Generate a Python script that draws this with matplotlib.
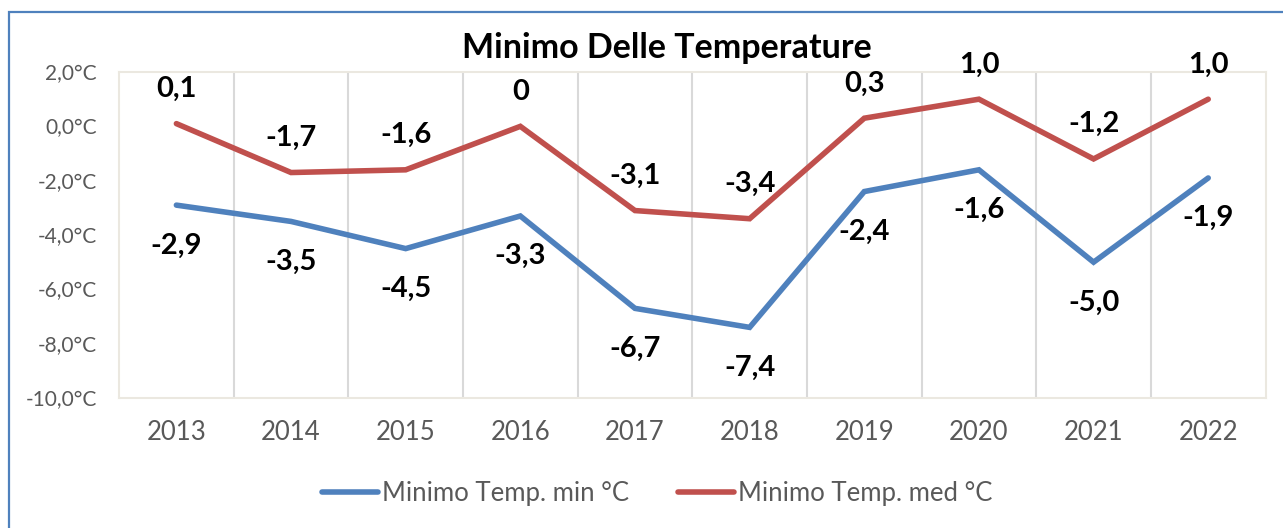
import matplotlib
matplotlib.use("Agg")
import matplotlib.pyplot as plt
from matplotlib.patches import Rectangle
from matplotlib.ticker import FuncFormatter, MultipleLocator

years = ["2013", "2014", "2015", "2016", "2017", "2018", "2019", "2020", "2021", "2022"]
temp_min = [-2.9, -3.5, -4.5, -3.3, -6.7, -7.4, -2.4, -1.6, -5.0, -1.9]
temp_med = [0.1, -1.7, -1.6, 0.0, -3.1, -3.4, 0.3, 1.0, -1.2, 1.0]
labels_min = ["-2,9", "-3,5", "-4,5", "-3,3", "-6,7", "-7,4", "-2,4", "-1,6", "-5,0", "-1,9"]
labels_med = ["0,1", "-1,7", "-1,6", "0", "-3,1", "-3,4", "0,3", "1,0", "-1,2", "1,0"]

plt.rcParams['font.family'] = ['Lato', 'DejaVu Sans']

blue = '#4f81bd'
red = '#c0504d'

fig = plt.figure(figsize=(12.83, 5.28), dpi=100)
ax = fig.add_axes([0.0928, 0.2462, 0.8936, 0.6174])

x = range(len(years))
ax.plot(x, temp_min, color=blue, lw=4.0, solid_capstyle='round',
        solid_joinstyle='miter', label='Minimo Temp. min °C')
ax.plot(x, temp_med, color=red, lw=4.0, solid_capstyle='round',
        solid_joinstyle='miter', label='Minimo Temp. med °C')

for i, (v, s) in enumerate(zip(temp_min, labels_min)):
    ax.annotate(s, (i, v), xytext=(0, -29), textcoords='offset points',
                ha='center', va='center', fontsize=21, fontweight='bold')
for i, (v, s) in enumerate(zip(temp_med, labels_med)):
    ax.annotate(s, (i, v), xytext=(0, 25), textcoords='offset points',
                ha='center', va='center', fontsize=21, fontweight='bold')

ax.set_xlim(-0.5, len(years) - 0.5)
ax.set_ylim(-10, 2)
ax.yaxis.set_major_locator(MultipleLocator(2))
ax.yaxis.set_major_formatter(FuncFormatter(lambda v, p: f"{v:.1f}°C".replace('.', ',')))
ax.set_xticks(list(x))
ax.set_xticklabels(years)
ax.set_xticks([i + 0.5 for i in range(len(years) - 1)], minor=True)
ax.grid(True, which='minor', axis='x', color='#d9d9d9', lw=1.5)
ax.tick_params(axis='x', which='both', length=0, pad=16, labelsize=18.5, labelcolor='#595959')
ax.tick_params(axis='y', length=0, pad=16, labelsize=15, labelcolor='#595959')
for sp in ax.spines.values():
    sp.set_color('#ebe8e0')
    sp.set_linewidth(1.5)

fig.text(667 / 1283, 1 - 48 / 528, 'Minimo Delle Temperature', ha='center', va='center',
         fontsize=24.5, fontweight='bold')

ax.legend(loc='center', bbox_to_anchor=(657 / 1283, 1 - 493 / 528),
          bbox_transform=fig.transFigure, ncol=2, frameon=False, fontsize=18.5,
          handlelength=2.2, handletextpad=0.15, columnspacing=1.9,
          labelcolor='#595959')

fig.patches.append(Rectangle((9 / 1283, -0.5), 2, 0.5 + 1 - 12 / 528,
                             transform=fig.transFigure, fill=False,
                             edgecolor='#4f81bd', lw=1.6))

fig.savefig('out.png', dpi=100)
